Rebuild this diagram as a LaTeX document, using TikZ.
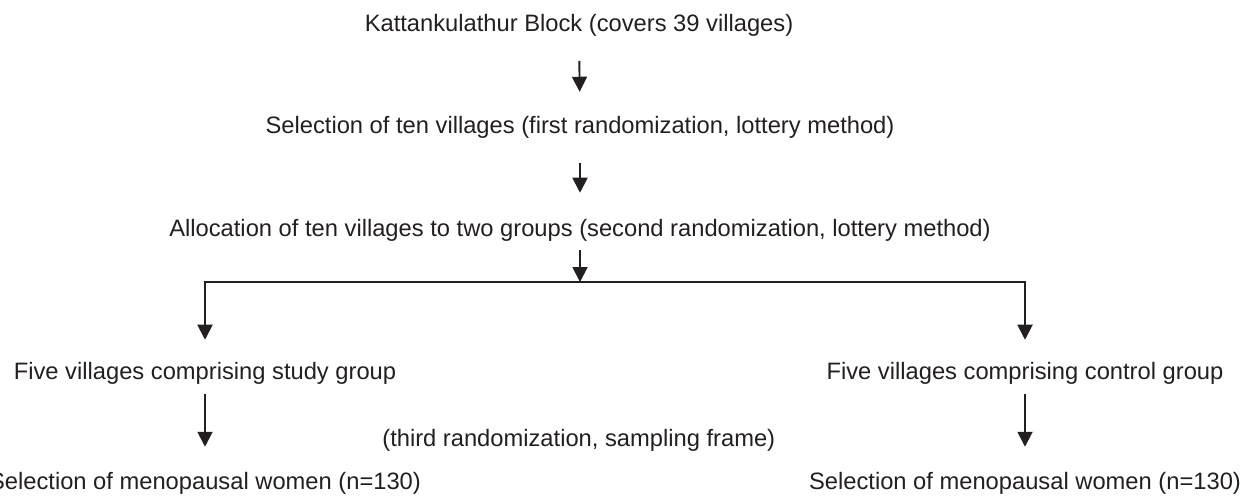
\documentclass[tikz,border=0pt]{standalone}
\usepackage{fontspec}
\setmainfont{Liberation Sans}
\usetikzlibrary{arrows.meta, positioning, calc}
\definecolor{ctext}{HTML}{231F20}

\begin{document}
\begin{tikzpicture}[x=0.02cm, y=-0.02cm,
    lbl/.style={font=\fontsize{13.5}{16}\selectfont, text=ctext, inner sep=0pt, text height=10pt, text depth=3pt},
    link/.style={line width=1.1pt, ctext},
    arr/.style={link, -{Triangle[length=0.3cm, width=0.3cm]}}]
  \useasboundingbox (0,0) rectangle (1246,495);

  % Steps down the middle
  \node[lbl] (block) at (579,25) {Kattankulathur Block (covers 39 villages)};
  \node[lbl] (sel) at (580,127) {Selection of ten villages (first randomization, lottery method)};
  \node[lbl] (alloc) at (580,230) {Allocation of ten villages to two groups (second randomization, lottery method)};
  \coordinate (split) at (580,282);

  % Two groups
  \node[lbl] (study) at (205,373) {Five villages comprising study group};
  \node[lbl] (ctrl) at (1025,373) {Five villages comprising control group};
  \node[lbl] (womenL) at (205,483) {Selection of menopausal women (n=130)};
  \node[lbl] (womenR) at (1025,483) {Selection of menopausal women (n=130)};
  \node[lbl, anchor=west] (third) at (382,440) {(third randomization, sampling frame)};

  % Arrows
  \draw[arr, shorten <=0.48cm, shorten >=0.47cm] (block) -- (sel);
  \draw[arr, shorten <=0.49cm, shorten >=0.51cm] (sel) -- (alloc);
  \draw[arr, shorten <=0.17cm] (alloc) -- (split);
  \draw[arr, shorten >=0.43cm] (split) -| (study);
  \draw[arr, shorten >=0.43cm] (split) -| (ctrl);
  \draw[arr, shorten <=0.19cm, shorten >=0.49cm] (study) -- (womenL);
  \draw[arr, shorten <=0.19cm, shorten >=0.49cm] (ctrl) -- (womenR);
\end{tikzpicture}
\end{document}
